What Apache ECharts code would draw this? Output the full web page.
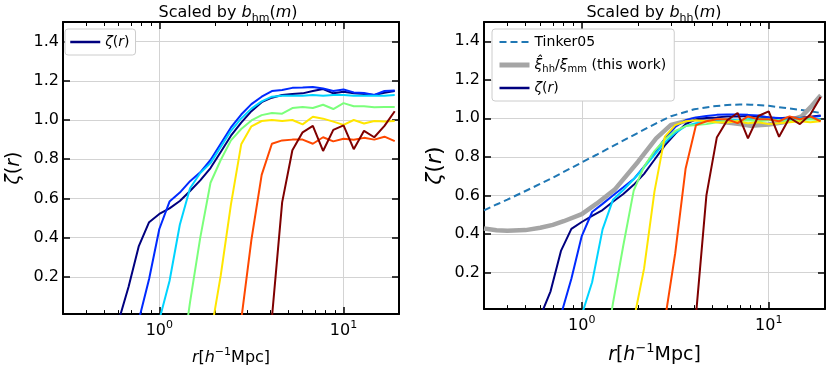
<!DOCTYPE html>
<html>
<head>
<meta charset="utf-8">
<script src="https://cdn.jsdelivr.net/npm/echarts@6.0.0/dist/echarts.min.js"></script>
<style>
html, body { margin: 0; padding: 0; background: #fff; }
#main { width: 830px; height: 374px; }
</style>
</head>
<body>
<div id="main"></div>
<script>
// bin centres in h^-1 Mpc
var rBins = [0.599, 0.681, 0.774, 0.880, 1.000, 1.136, 1.292, 1.468, 1.668, 1.896, 2.154, 2.448, 2.783, 3.162,
	3.594, 4.084, 4.642, 5.275, 5.995, 6.813, 7.743, 8.799, 10.00, 11.36, 12.92, 14.68, 16.68, 18.96];

// left panel : scaled by b_hm(m), one curve per mass bin (low -> high)
var hmNavy = [-0.03, 0.15, 0.357, 0.479, 0.521, 0.549, 0.587, 0.638, 0.692, 0.755, 0.837, 0.920, 0.987, 1.045,
	1.091, 1.114, 1.128, 1.133, 1.136, 1.148, 1.158, 1.136, 1.144, 1.136, 1.133, 1.128, 1.139, 1.148];
var hmBlue = [null, null, -0.02, 0.189, 0.444, 0.584, 0.630, 0.688, 0.733, 0.796, 0.879, 0.962, 1.028, 1.081,
	1.119, 1.148, 1.153, 1.164, 1.166, 1.169, 1.161, 1.148, 1.156, 1.141, 1.138, 1.128, 1.148, 1.151];
var hmCyan = [null, null, null, null, -0.02, 0.179, 0.466, 0.652, 0.730, 0.780, 0.862, 0.945, 1.008, 1.058,
	1.095, 1.119, 1.124, 1.124, 1.124, 1.128, 1.124, 1.128, 1.128, 1.124, 1.124, 1.124, 1.124, 1.128];
var hmGreen = [null, null, null, null, null, null, -0.30, 0.071, 0.40, 0.68, 0.796, 0.896, 0.954, 0.998,
	1.025, 1.036, 1.032, 1.061, 1.066, 1.061, 1.078, 1.056, 1.086, 1.070, 1.070, 1.065, 1.066, 1.066];
var hmYellow = [null, null, null, null, null, null, null, null, null, -0.10, 0.206, 0.570, 0.876, 0.968,
	0.995, 1.0, 0.995, 1.0, 0.978, 1.017, 1.007, 0.992, 0.975, 1.0, 0.982, 0.995, 0.992, 0.995];
var hmOrange = [null, null, null, null, null, null, null, null, null, null, null, null, -0.02, 0.39,
	0.72, 0.879, 0.896, 0.900, 0.900, 0.879, 0.912, 0.891, 0.904, 0.899, 0.909, 0.900, 0.915, 0.892];
var hmDarkRed = [null, null, null, null, null, null, null, null, null, null, null, null, null, null,
	null, -0.01, 0.58, 0.846, 0.937, 0.970, 0.842, 0.950, 0.973, 0.851, 0.945, 0.912, 0.970, 1.045];

// right panel : scaled by b_hh(m)
var hhNavy = [-0.03, 0.102, 0.312, 0.426, 0.462, 0.494, 0.524, 0.567, 0.607, 0.655, 0.712, 0.785, 0.86, 0.92,
	0.97, 0.995, 1.002, 1.005, 1.01, 1.01, 1.012, 1.008, 1.005, 1.0, 1.005, 1.002, 1.008, 1.015];
var hhBlue = [null, null, -0.02, 0.168, 0.389, 0.514, 0.556, 0.600, 0.642, 0.685, 0.75, 0.82, 0.895, 0.955,
	0.99, 1.005, 1.012, 1.018, 1.02, 1.02, 1.018, 1.015, 1.005, 1.002, 1.0, 1.0, 1.005, 1.012];
var hhCyan = [null, null, null, null, -0.02, 0.149, 0.424, 0.577, 0.628, 0.684, 0.745, 0.81, 0.875, 0.925,
	0.96, 0.975, 0.985, 0.99, 0.995, 0.99, 0.995, 1.0, 0.995, 0.99, 0.995, 1.0, 1.0, 0.995];
var hhGreen = [null, null, null, null, null, null, -0.30, 0.04, 0.34, 0.625, 0.75, 0.83, 0.89, 0.935,
	0.96, 0.965, 0.97, 0.98, 0.99, 0.985, 0.99, 0.985, 0.99, 0.99, 0.985, 0.99, 0.995, 0.99];
var hhYellow = [null, null, null, null, null, null, null, null, null, -0.05, 0.22, 0.62, 0.905, 0.965,
	0.985, 0.99, 0.985, 0.98, 0.978, 0.985, 0.975, 0.98, 0.97, 0.975, 0.98, 0.985, 0.98, 0.985];
var hhOrange = [null, null, null, null, null, null, null, null, null, null, null, null, -0.05, 0.30,
	0.74, 0.965, 0.985, 0.995, 0.995, 0.975, 1.01, 0.995, 0.995, 0.985, 1.01, 0.995, 1.01, 0.985];
var hhDarkRed = [null, null, null, null, null, null, null, null, null, null, null, null, null, null,
	null, -0.02, 0.6, 0.90, 0.99, 1.028, 0.896, 1.012, 1.036, 0.904, 1.003, 0.97, 1.02, 1.111];

// smooth model curves (right panel)
var rSmooth = [0.3, 0.35, 0.4, 0.5, 0.6, 0.7, 0.8, 1.0, 1.2, 1.5, 2, 2.5, 3, 4, 5, 6, 7, 8, 10, 12, 15, 17, 19];
var tinker05 = [0.522, 0.553, 0.578, 0.623, 0.660, 0.692, 0.722, 0.771, 0.811, 0.861, 0.925, 0.974, 1.011,
	1.047, 1.062, 1.069, 1.072, 1.071, 1.065, 1.055, 1.043, 1.035, 1.028];
var thisWork = [0.428, 0.419, 0.416, 0.420, 0.432, 0.447, 0.466, 0.503, 0.557, 0.630, 0.775, 0.896, 0.966,
	0.997, 0.990, 0.978, 0.970, 0.962, 0.968, 0.980, 1.01, 1.065, 1.12];

var xMajor = [1, 10];
var xMinor = [0.4, 0.5, 0.6, 0.7, 0.8, 0.9, 2, 3, 4, 5, 6, 7, 8, 9];
var yTicks = [0.2, 0.4, 0.6, 0.8, 1.0, 1.2, 1.4];

var FONT = 'DejaVu Sans';
var jet = [ '#00007f', '#002aff', '#00d4ff', '#7bff7b', '#ffe600', '#ff4800', '#7f0000' ];
var tinkerColor = '#1f77b4', workColor = '#a5a5a5';

function rich(size) {
	var s = Math.round(size * 0.7);
	return {
		it : { fontStyle : 'italic', fontWeight : 'normal', fontSize : size, fontFamily : FONT, color : '#000',
			lineHeight : Math.round(size * 1.4), verticalAlign : 'middle' },
		sub : { fontSize : s, fontWeight : 'normal', fontFamily : FONT, color : '#000', lineHeight : s, verticalAlign : 'bottom' },
		sup : { fontSize : s, fontWeight : 'normal', fontFamily : FONT, color : '#000', lineHeight : s, verticalAlign : 'top' }
	};
}

function txt(size) {
	return { fontSize : size, fontWeight : 'normal', fontFamily : FONT, color : '#000',
		lineHeight : Math.round(size * 1.4), rich : rich(size) };
}

function xAxesFor(grid, nameSize) {
	var base = { type : 'log', logBase : 10, min : 0.3, max : 20, gridIndex : grid };
	var black = { color : '#000', width : 2 };
	return [ echarts.util.extend({
		position : 'bottom',
		axisLine : { show : true, onZero : false, lineStyle : black },
		axisTick : { customValues : xMajor, inside : true, length : 7, lineStyle : { color : '#000', width : 1.5 } },
		axisLabel : { customValues : xMajor, margin : 6, color : '#000', fontSize : 16, fontFamily : FONT,
			lineHeight : 22, rich : rich(16),
			formatter : function(v) { return '10{sup|' + Math.round(Math.log10(v)) + '}'; } },
		splitLine : { show : true, lineStyle : { color : '#d3d3d3', width : 1 } },
		name : '{it|r}[{it|h}{sup|\u22121}Mpc]',
		nameLocation : 'middle',
		nameGap : 24,
		nameTextStyle : txt(nameSize)
	}, base), echarts.util.extend({
		position : 'bottom',
		axisLine : { show : false, onZero : false },
		axisTick : { customValues : xMinor, inside : true, length : 4, lineStyle : { color : '#000', width : 1 } },
		axisLabel : { show : false },
		splitLine : { show : false }
	}, base), echarts.util.extend({
		position : 'top',
		axisLine : { show : true, onZero : false, lineStyle : black },
		axisTick : { customValues : xMajor, inside : true, length : 7, lineStyle : { color : '#000', width : 1.5 } },
		axisLabel : { show : false },
		splitLine : { show : false }
	}, base), echarts.util.extend({
		position : 'top',
		axisLine : { show : false, onZero : false },
		axisTick : { customValues : xMinor, inside : true, length : 4, lineStyle : { color : '#000', width : 1 } },
		axisLabel : { show : false },
		splitLine : { show : false }
	}, base) ];
}

function yAxesFor(grid, nameSize, nameGap) {
	var base = { type : 'value', min : 0.01, max : 1.5, gridIndex : grid };
	var black = { color : '#000', width : 2 };
	return [ echarts.util.extend({
		position : 'left',
		axisLine : { show : true, onZero : false, lineStyle : black },
		axisTick : { customValues : yTicks, inside : true, length : 7, lineStyle : { color : '#000', width : 1.5 } },
		axisLabel : { customValues : yTicks, margin : 4, color : '#000', fontSize : 16, fontFamily : FONT,
			formatter : function(v) { return v.toFixed(1); } },
		splitLine : { show : true, lineStyle : { color : '#d3d3d3', width : 1 } },
		name : '{it|\u03b6}({it|r})',
		nameLocation : 'middle',
		nameRotate : 90,
		nameGap : nameGap,
		nameTextStyle : txt(nameSize)
	}, base), echarts.util.extend({
		position : 'right',
		axisLine : { show : true, onZero : false, lineStyle : black },
		axisTick : { customValues : yTicks, inside : true, length : 7, lineStyle : { color : '#000', width : 1.5 } },
		axisLabel : { show : false },
		splitLine : { show : false }
	}, base) ];
}

function pairs(xs, ys) {
	return xs.map(function(x, i) { return [ x, ys[i] ]; });
}

function line(name, xi, yi, xs, ys, color, width, dash) {
	return {
		name : name,
		type : 'line',
		xAxisIndex : xi,
		yAxisIndex : yi,
		data : pairs(xs, ys),
		symbol : 'none',
		clip : true,
		connectNulls : false,
		lineStyle : { color : color, width : width, type : dash || 'solid' },
		itemStyle : { color : color },
		emphasis : { disabled : true }
	};
}

var hmSets = [ hmNavy, hmBlue, hmCyan, hmGreen, hmYellow, hmOrange, hmDarkRed ];
var hhSets = [ hhNavy, hhBlue, hhCyan, hhGreen, hhYellow, hhOrange, hhDarkRed ];

var series = [];
hmSets.forEach(function(ys, i) {
	series.push(line(i === 0 ? '\u03b6(r)' : 'hm' + i, 0, 0, rBins, ys, jet[i], 2));
});
series.push(line('Tinker05', 4, 2, rSmooth, tinker05, tinkerColor, 2, [ 7, 4 ]));
series.push(line('thisWork', 4, 2, rSmooth, thisWork, workColor, 4.5));
hhSets.forEach(function(ys, i) {
	series.push(line(i === 0 ? '\u03b6(r)' : 'hh' + i, 4, 2, rBins, ys, jet[i], 2));
});

function legendName(name) {
	if (name === 'thisWork')
		return '{it|\u03be\u0302}{sub|hh}/{it|\u03be}{sub|mm} (this work)';
	if (name === '\u03b6(r)')
		return '{it|\u03b6}({it|r})';
	return name;
}

var legendBase = {
	orient : 'vertical',
	backgroundColor : '#fff',
	borderColor : '#cccccc',
	borderWidth : 1,
	borderRadius : 3,
	itemWidth : 30,
	itemHeight : 14,
	itemGap : 5,
	selectedMode : false,
	itemStyle : { opacity : 0 },
	formatter : legendName,
	textStyle : { fontSize : 14, fontFamily : FONT, color : '#000', lineHeight : 18,
		rich : {
			it : { fontStyle : 'italic', fontSize : 14, fontFamily : FONT, color : '#000', lineHeight : 18 },
			sub : { fontSize : 10, fontFamily : FONT, color : '#000', lineHeight : 9, verticalAlign : 'bottom' }
		} }
};

var zetaItem = { name : '\u03b6(r)', lineStyle : { color : jet[0], width : 2.5 } };

var option = {
	animation : false,
	backgroundColor : '#fff',
	title : [ {
		text : 'Scaled by {it|b}{sub|hm}({it|m})',
		left : 228, top : 2, padding : 0, textAlign : 'center',
		textStyle : txt(16)
	}, {
		text : 'Scaled by {it|b}{sub|hh}({it|m})',
		left : 654, top : 2, padding : 0, textAlign : 'center',
		textStyle : txt(16)
	} ],
	legend : [ echarts.util.extend({
		left : 65, top : 29, padding : [ 4, 6, 4, 4 ],
		data : [ zetaItem ]
	}, legendBase), echarts.util.extend({
		left : 492, top : 29, padding : [ 4, 8, 4, 5 ],
		data : [
			{ name : 'Tinker05', lineStyle : { color : tinkerColor, width : 2, type : [ 7, 4 ] } },
			{ name : 'thisWork', lineStyle : { color : workColor, width : 5 } },
			zetaItem ]
	}, legendBase) ],
	grid : [ {
		left : 58, top : 22, width : 341, height : 299
	}, {
		left : 484, top : 22, width : 341, height : 299
	} ],
	xAxis : xAxesFor(0, 16).concat(xAxesFor(1, 19)),
	yAxis : yAxesFor(0, 19, 35).concat(yAxesFor(1, 22, 32)),
	series : series
};

var chart = echarts.init(document.getElementById('main'));
chart.setOption(option);
</script>
</body>
</html>
